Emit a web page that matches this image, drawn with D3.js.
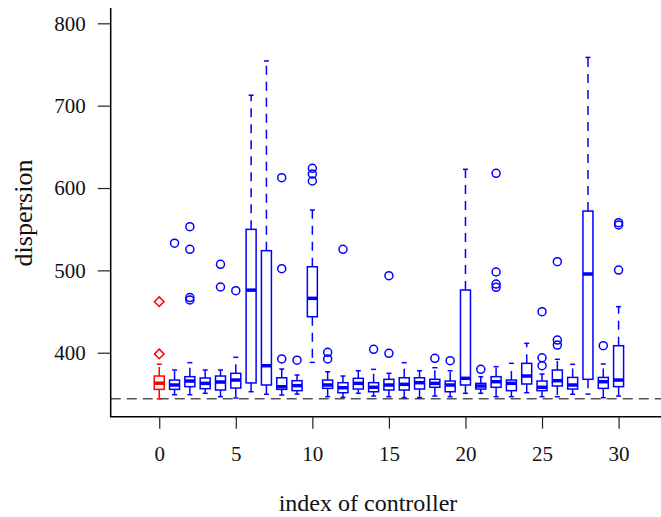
<!DOCTYPE html>
<html>
<head>
<meta charset="utf-8">
<script src="https://cdn.jsdelivr.net/npm/d3@7"></script>
<style>
  body { margin: 0; background: #fff; }
  text { font-family: "Liberation Serif", "Times New Roman", serif; fill: #111; }
</style>
</head>
<body>
<div id="chart"></div>
<script>
// box statistics per controller
const controllers = d3.range(0, 31);
const whiskerLow  = [344, 349, 349, 350.7, 346.6, 345, 352.6, 349.5, 348.6, 349.8, 388.3, 346.6, 345.8, 350.7, 347.4, 346.6, 345.4, 345.4, 347.4, 346.6, 350.7, 350.7, 346.6, 346.6, 351.4, 346.6, 346.6, 349.5, 349.8, 345.4, 347.4];
const q1          = [355.5, 355.5, 358.8, 356.3, 354.7, 357.1, 363.3, 360.8, 355.5, 353.9, 443.7, 356.7, 351.4, 355.9, 352.6, 354.7, 354.7, 355.9, 358, 352.6, 360.8, 355.9, 358, 353.9, 362, 353.9, 359.6, 355.9, 367.7, 356.7, 358.8];
const medians     = [363, 360.8, 365.6, 362.8, 364.4, 366.8, 476, 384.2, 358.7, 360, 466, 360.8, 357.5, 362.8, 358, 360.8, 361.6, 363.6, 362.8, 360.8, 368.9, 359.6, 364.8, 362.8, 371.7, 358, 366, 360.8, 495.6, 364.8, 366.8];
const q3          = [371.7, 366.8, 370.9, 369.3, 371.7, 375, 549.8, 523.9, 369.6, 366, 504.4, 366.8, 363.6, 368.9, 363.6, 367.7, 369.6, 369.6, 367.7, 365.6, 476.1, 362.8, 370.9, 366.8, 387.1, 365.6, 379, 370, 572, 370, 408.5];
const whiskerHigh = [386, 379, 387.9, 379, 379, 394.4, 712.7, 754.3, 380.2, 372.9, 573.3, 376.9, 371.7, 378.1, 379.8, 375, 387.9, 378.1, 381.8, 378.1, 622.7, 370.9, 383, 387.1, 411.4, 374.1, 392, 385.9, 758.6, 386.3, 455.9];
const outliers = [
  [398.5, 462], [533], [464, 467, 525.5, 553], [], [479.8, 507.3], [475.3],
  [], [], [392.4, 502, 612.5], [391], [608.5, 617, 623.9], [392.4, 400.5],
  [525.5], [], [404.1], [399.2, 493.5], [], [], [393.2], [390.3], [],
  [379.8], [479.4, 483.4, 498, 617.8], [], [], [384.2, 393.9, 449.8],
  [409.3, 415.4, 510.5], [], [], [408.5], [500.4, 555.1, 557.9]
];
const baseline = 344;
const xTicks = [0, 5, 10, 15, 20, 25, 30];
const yTicks = [400, 500, 600, 700, 800];

const width = 661, height = 517;
const plotL = 110.7, plotR = 661, plotT = 8, plotB = 416.7;

const svg = d3.select('#chart').append('svg')
  .attr('width', width)
  .attr('height', height);

const x = d3.scaleLinear().domain([-3.17, 32.77]).range([plotL, plotR]);
const y = d3.scaleLinear().domain([322.3, 818.6]).range([plotB, plotT]);

const boxes = controllers.map((c, i) => ({
  id: c, lo: whiskerLow[i], q1: q1[i], med: medians[i], q3: q3[i], hi: whiskerHigh[i], out: outliers[i]
}));

const colour = d => d.id === 0 ? '#ff0000' : '#0000ff';
const bw = 10, sw = 5;

// reference line
svg.append('line')
  .attr('x1', plotL).attr('x2', plotR)
  .attr('y1', y(baseline)).attr('y2', y(baseline))
  .attr('stroke', '#555').attr('stroke-width', 1.5)
  .attr('stroke-dasharray', '10,6');

const g = svg.append('g').selectAll('g')
  .data(boxes)
  .enter().append('g')
  .attr('stroke', colour)
  .attr('fill', 'none');

// whiskers
g.append('line')
  .attr('x1', d => x(d.id)).attr('x2', d => x(d.id))
  .attr('y1', d => y(d.q3)).attr('y2', d => y(d.hi))
  .attr('stroke-width', 1.5).attr('stroke-dasharray', '9,7');
g.append('line')
  .attr('x1', d => x(d.id)).attr('x2', d => x(d.id))
  .attr('y1', d => y(d.q1)).attr('y2', d => y(d.lo))
  .attr('stroke-width', 1.5).attr('stroke-dasharray', '9,7');

// staples
g.selectAll('.staple')
  .data(d => [d.lo, d.hi].map(v => ({id: d.id, v: v})))
  .enter().append('line')
  .attr('class', 'staple')
  .attr('x1', d => x(d.id) - sw / 2).attr('x2', d => x(d.id) + sw / 2)
  .attr('y1', d => y(d.v)).attr('y2', d => y(d.v))
  .attr('stroke-width', 1.5);

// boxes
g.append('rect')
  .attr('x', d => x(d.id) - bw / 2)
  .attr('y', d => y(d.q3))
  .attr('width', bw)
  .attr('height', d => y(d.q1) - y(d.q3))
  .attr('fill', '#fff')
  .attr('stroke-width', 1.5);

// medians
g.append('line')
  .attr('x1', d => x(d.id) - bw / 2).attr('x2', d => x(d.id) + bw / 2)
  .attr('y1', d => y(d.med)).attr('y2', d => y(d.med))
  .attr('stroke-width', 3.5);

// outliers
g.selectAll('.out')
  .data(d => d.out.map(v => ({id: d.id, v: v})))
  .enter().append('path')
  .attr('class', 'out')
  .attr('transform', d => 'translate(' + x(d.id) + ',' + y(d.v) + ')')
  .attr('d', d => d.id === 0
    ? 'M0,-4.8L4.8,0L0,4.8L-4.8,0Z'
    : d3.symbol().type(d3.symbolCircle).size(Math.PI * 16)())
  .attr('stroke-width', 1.5);

// axes
svg.append('line')
  .attr('x1', plotL).attr('x2', plotL).attr('y1', plotT).attr('y2', plotB)
  .attr('stroke', '#000').attr('stroke-width', 1.5);
svg.append('line')
  .attr('x1', plotL - 0.75).attr('x2', plotR).attr('y1', plotB).attr('y2', plotB)
  .attr('stroke', '#000').attr('stroke-width', 1.5);

const yAxis = svg.append('g')
  .attr('transform', 'translate(' + plotL + ',0)')
  .call(d3.axisLeft(y).tickValues(yTicks).tickSize(13).tickPadding(12));
yAxis.select('.domain').remove();
yAxis.selectAll('line').attr('stroke', '#222').attr('stroke-width', 1.2);
yAxis.selectAll('text').style('font-size', '21px').attr('fill', '#111')
  .style('font-family', '"Liberation Serif", serif');

const xAxis = svg.append('g')
  .attr('transform', 'translate(0,' + plotB + ')')
  .call(d3.axisBottom(x).tickValues(xTicks).tickSize(12).tickPadding(17));
xAxis.select('.domain').remove();
xAxis.selectAll('line').attr('stroke', '#222').attr('stroke-width', 1.2);
xAxis.selectAll('text').style('font-size', '21px').attr('fill', '#111')
  .style('font-family', '"Liberation Serif", serif');

// titles
svg.append('text')
  .attr('x', 368).attr('y', 511)
  .attr('text-anchor', 'middle')
  .style('font-size', '24px')
  .text('index of controller');

svg.append('text')
  .attr('transform', 'translate(32,213) rotate(-90)')
  .attr('text-anchor', 'middle')
  .style('font-size', '26px')
  .text('dispersion');
</script>
</body>
</html>
